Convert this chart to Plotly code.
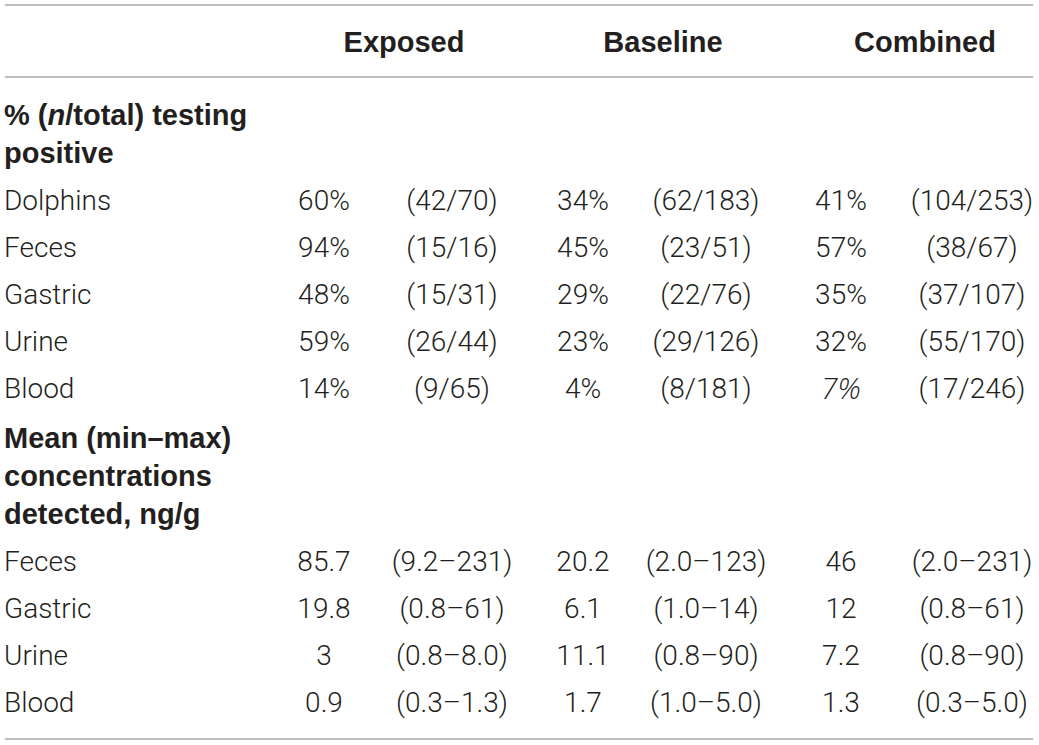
import plotly.graph_objects as go

# ---DATA---
groups = ["Exposed", "Baseline", "Combined"]

section_positive = ["% (<i>n</i>/total) testing", "positive"]
positive_labels = ["Dolphins", "Feces", "Gastric", "Urine", "Blood"]
exposed_pct = ["60%", "94%", "48%", "59%", "14%"]
exposed_frac = ["(42/70)", "(15/16)", "(15/31)", "(26/44)", "(9/65)"]
baseline_pct = ["34%", "45%", "29%", "23%", "4%"]
baseline_frac = ["(62/183)", "(23/51)", "(22/76)", "(29/126)", "(8/181)"]
combined_pct = ["41%", "57%", "35%", "32%", "7%"]
combined_pct_style = ["normal", "normal", "normal", "normal", "italic"]  # 7% is set in italics
combined_frac = ["(104/253)", "(38/67)", "(37/107)", "(55/170)", "(17/246)"]

section_conc = ["Mean (min–max)", "concentrations", "detected, ng/g"]
conc_labels = ["Feces", "Gastric", "Urine", "Blood"]
exposed_mean = ["85.7", "19.8", "3", "0.9"]
exposed_range = ["(9.2–231)", "(0.8–61)", "(0.8–8.0)", "(0.3–1.3)"]
baseline_mean = ["20.2", "6.1", "11.1", "1.7"]
baseline_range = ["(2.0–123)", "(1.0–14)", "(0.8–90)", "(1.0–5.0)"]
combined_mean = ["46", "12", "7.2", "1.3"]
combined_range = ["(2.0–231)", "(0.8–61)", "(0.8–90)", "(0.3–5.0)"]

# ---LAYOUT (pixel-like units)---
W, H = 1039, 745
FONT = "Roboto, Liberation Sans, Arial, sans-serif"
BOLD_FONT = "Liberation Sans, Arial, sans-serif"
ITALIC_FONT = "Open Sans, Noto Sans, Liberation Sans, sans-serif"  # roboto light has no italic here
TXT = "#231f20"
RULE = "#a5a5a5"
fs = 28
fs_bold = 29

label_x = 4
header_x = [404, 663, 925]
value_x = [324, 583, 841]
paren_x = [452, 706, 972]

header_y = 45
line_h = 38
row_h = 47

# row positions built from a cursor
y = 118
sec1_y = [y, y + line_h]
y = sec1_y[-1]
pos_y = []
for _ in positive_labels:
    y += row_h
    pos_y.append(y)
y += 50
sec2_y = [y, y + line_h, y + 2 * line_h]
y = sec2_y[-1]
conc_y = []
for _ in conc_labels:
    y += row_h
    conc_y.append(y)

fig = go.Figure()


def add_text(xs, ys, texts, pos="middle center", bold=False, style="normal"):
    if isinstance(style, list):
        family = [ITALIC_FONT if s == "italic" else FONT for s in style]
        size = [fs + 2 if s == "italic" else fs for s in style]
    else:
        family = BOLD_FONT if bold else FONT
        size = fs_bold if bold else fs
    fig.add_trace(go.Scatter(
        x=xs, y=ys, text=[f"<b>{t}</b>" if bold else t for t in texts],
        mode="text", textposition=pos, cliponaxis=False,
        textfont=dict(family=family, size=size, color=TXT,
                      weight=700 if bold else 300, style=style),
        hoverinfo="skip", showlegend=False,
    ))


# header
add_text(header_x, [header_y] * 3, groups, bold=True)

# section 1
add_text([label_x] * len(sec1_y), sec1_y, section_positive, pos="middle right", bold=True)
add_text([label_x] * len(pos_y), pos_y, positive_labels, pos="middle right")
add_text([value_x[0]] * 5, pos_y, exposed_pct)
add_text([value_x[1]] * 5, pos_y, baseline_pct)
add_text([value_x[2]] * 5, pos_y, combined_pct, style=combined_pct_style)
for cx, vals in zip(paren_x, [exposed_frac, baseline_frac, combined_frac]):
    add_text([cx] * len(vals), pos_y, vals)

# section 2
add_text([label_x] * len(sec2_y), sec2_y, section_conc, pos="middle right", bold=True)
add_text([label_x] * len(conc_y), conc_y, conc_labels, pos="middle right")
for cx, vals in zip(value_x, [exposed_mean, baseline_mean, combined_mean]):
    add_text([cx] * len(vals), conc_y, vals)
for cx, vals in zip(paren_x, [exposed_range, baseline_range, combined_range]):
    add_text([cx] * len(vals), conc_y, vals)

# rules
for ry in [5, 77, 739]:
    fig.add_shape(type="line", x0=5, x1=1033, y0=ry, y1=ry,
                  line=dict(color=RULE, width=1.5))

fig.update_layout(
    width=W, height=H,
    margin=dict(l=0, r=0, t=0, b=0),
    paper_bgcolor="white", plot_bgcolor="white",
    xaxis=dict(range=[0, W], visible=False, fixedrange=True),
    yaxis=dict(range=[H, 0], visible=False, fixedrange=True),
)

fig.write_html("out.html", config={"displayModeBar": False},
               post_script="document.body.style.margin='0';")
